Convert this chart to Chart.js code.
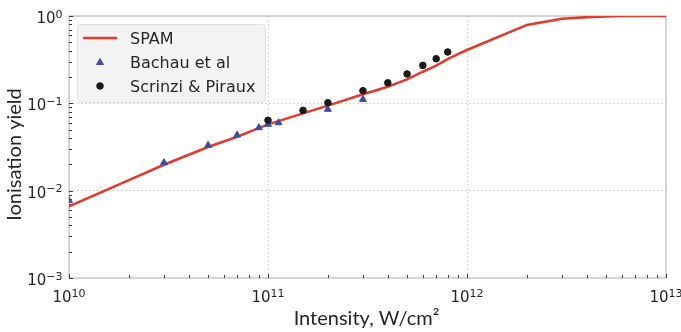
<!DOCTYPE html>
<html><head><meta charset="utf-8">
<script src="https://cdn.jsdelivr.net/npm/chart.js@4/dist/chart.umd.min.js"></script>
<style>html,body{margin:0;padding:0;background:#fff}#wrap{width:681px;height:332px;position:relative}</style>
</head><body><div id="wrap"><canvas id="c"></canvas></div>
<script>
// ---- data ----
const seriesNames = ['SPAM', 'Bachau et al', 'Scrinzi & Piraux'];
const spamX = [1e10, 2e10, 3e10, 5e10, 7e10, 1e11, 1.5e11, 2e11, 3e11, 4e11, 5e11, 6e11, 7e11, 8e11, 9e11, 1e12, 2e12, 3e12, 4e12, 5e12, 6e12, 7e12, 8e12, 9e12, 1e13];
const spamY = [0.0066, 0.0132, 0.0198, 0.0316, 0.0414, 0.0575, 0.0768, 0.094, 0.127, 0.155, 0.188, 0.23, 0.27, 0.32, 0.367, 0.408, 0.79, 0.93, 0.97, 0.99, 0.997, 1.0, 1.0, 1.0, 1.0];
const bachauX = [1e10, 3e10, 5e10, 7e10, 9e10, 1e11, 1.13e11, 2e11, 3e11];
const bachauY = [0.0077, 0.0209, 0.0331, 0.0433, 0.0526, 0.0575, 0.060, 0.0854, 0.111];
const scrinziX = [1e11, 1.5e11, 2e11, 3e11, 4e11, 5e11, 6e11, 7e11, 8e11];
const scrinziY = [0.064, 0.083, 0.1016, 0.1395, 0.172, 0.217, 0.272, 0.324, 0.387];
// tick labels: base "10" with these exponents
const tickBase = '10';
const xTickExponents = ['10', '11', '12', '13'];
const yTickExponents = ['\u22123', '\u22122', '\u22121', '0'];
const xTitle = 'Intensity, W/cm²';
const yTitle = 'Ionisation yield';

const toPts = (xs, ys) => xs.map((x, i) => ({x: x, y: ys[i]}));
const TXT = '#262626';

function logTicks(scale) {
  const ticks = [];
  const e0 = Math.round(Math.log10(scale.min));
  const e1 = Math.round(Math.log10(scale.max));
  for (let p = e0; p <= e1; p++) {
    for (let m = 1; m <= 9; m++) {
      const v = m * Math.pow(10, p);
      if (v > scale.max * 1.0001) break;
      ticks.push({value: v, major: m === 1});
    }
  }
  scale.ticks = ticks;
}
const gridColor = (ctx) => (ctx.tick && ctx.tick.major) ? '#d6d6d6' : 'rgba(0,0,0,0)';

const framePlugin = {
  id: 'frame',
  beforeDatasetsDraw(chart) {
    const {ctx, chartArea: a} = chart;
    ctx.save();
    ctx.strokeStyle = '#cccccc';
    ctx.lineWidth = 1.5;
    ctx.strokeRect(a.left, a.top, a.right - a.left, a.bottom - a.top);
    ctx.strokeStyle = '#3a3a3a';
    ctx.lineWidth = 1;
    const xs = chart.scales.x, ys = chart.scales.y;
    xs.ticks.forEach(t => {
      const px = Math.round(xs.getPixelForValue(t.value)) + 0.5;
      const L = t.major ? 4 : 3;
      ctx.beginPath(); ctx.moveTo(px, a.bottom); ctx.lineTo(px, a.bottom - L); ctx.stroke();
    });
    ys.ticks.forEach(t => {
      const py = Math.round(ys.getPixelForValue(t.value)) + 0.5;
      const L = t.major ? 4 : 3;
      ctx.beginPath(); ctx.moveTo(a.left, py); ctx.lineTo(a.left + L, py); ctx.stroke();
    });
    ctx.restore();
  }
};

const labelsPlugin = {
  id: 'powLabels',
  afterDraw(chart) {
    const {ctx, chartArea: a} = chart;
    const baseFont = '15px "DejaVu Sans"', expFont = '11px "DejaVu Sans"';
    ctx.save();
    ctx.fillStyle = TXT;
    ctx.textBaseline = 'alphabetic';
    ctx.textAlign = 'left';
    function drawPow(exp, x, baseline, align) {
      ctx.font = baseFont; const wb = ctx.measureText(tickBase).width;
      ctx.font = expFont; const we = ctx.measureText(exp).width;
      const x0 = align === 'center' ? x - (wb + we) / 2 : x - (wb + we);
      ctx.font = baseFont; ctx.fillText(tickBase, x0, baseline);
      ctx.font = expFont; ctx.fillText(exp, x0 + wb, baseline - 5.5);
    }
    const xs = chart.scales.x, ys = chart.scales.y;
    xs.ticks.filter(t => t.major).forEach((t, k) => {
      drawPow(xTickExponents[k], xs.getPixelForValue(t.value), a.bottom + 24, 'center');
    });
    ys.ticks.filter(t => t.major).forEach((t, k) => {
      drawPow(yTickExponents[k], a.left - 6.5, ys.getPixelForValue(t.value) + 7, 'right');
    });
    // axis titles
    ctx.font = '20px Lato';
    ctx.textAlign = 'center';
    ctx.fillText(xTitle, (a.left + a.right) / 2 - 1, a.bottom + 47);
    ctx.translate(21, (a.top + a.bottom) / 2 + 7.5);
    ctx.rotate(-Math.PI / 2);
    ctx.fillText(yTitle, 0, 0);
    ctx.restore();
  }
};

const legendPlugin = {
  id: 'boxLegend',
  afterDatasetsDraw(chart) {
    const {ctx, chartArea: a} = chart;
    const bx = a.left + 8, by = a.top + 8, bw = 188, bh = 78;
    ctx.save();
    ctx.beginPath();
    ctx.roundRect(bx + 0.5, by + 0.5, bw, bh, 3);
    ctx.fillStyle = 'rgba(242,242,242,0.95)';
    ctx.fill();
    ctx.strokeStyle = '#e2e2e2';
    ctx.lineWidth = 1;
    ctx.stroke();
    const rows = [14, 37.5, 62];
    ctx.font = '16px "DejaVu Sans"';
    ctx.textBaseline = 'alphabetic';
    chart.data.datasets.forEach((ds, i) => {
      const y = by + rows[i];
      const mx = bx + 23;
      if (i === 0) {
        ctx.strokeStyle = ds.borderColor;
        ctx.lineWidth = ds.borderWidth;
        ctx.beginPath(); ctx.moveTo(bx + 6, y); ctx.lineTo(bx + 40, y); ctx.stroke();
      } else {
        ctx.fillStyle = ds.pointBackgroundColor;
        ctx.strokeStyle = ds.pointBorderColor;
        ctx.lineWidth = ds.pointBorderWidth;
        Chart.helpers.drawPoint(ctx, {pointStyle: ds.pointStyle, radius: ds.pointRadius, borderWidth: ds.pointBorderWidth}, mx, y + (i === 1 ? 1 : 0));
      }
      ctx.fillStyle = TXT;
      ctx.fillText(ds.label, bx + 53, y + 6);
    });
    ctx.restore();
  }
};

new Chart(document.getElementById('c'), {
  type: 'line',
  data: {
    datasets: [
      {label: seriesNames[0], data: toPts(spamX, spamY), borderColor: '#e4392b', borderWidth: 2.5,
       pointRadius: 0, tension: 0, fill: false, order: 3},
      {label: seriesNames[1], data: toPts(bachauX, bachauY), showLine: false, pointStyle: 'triangle',
       pointRadius: 4, pointBackgroundColor: '#3a4ea6', pointBorderColor: '#3a4ea6', pointBorderWidth: 1, order: 2},
      {label: seriesNames[2], data: toPts(scrinziX, scrinziY), showLine: false, pointStyle: 'circle',
       pointRadius: 3.3, pointBackgroundColor: '#1a1a1a', pointBorderColor: '#1a1a1a', pointBorderWidth: 1, order: 1}
    ]
  },
  options: {
    responsive: true, maintainAspectRatio: false, animation: false, devicePixelRatio: 1,
    layout: {padding: {top: 16, right: 15, bottom: 0, left: 0}},
    plugins: {legend: {display: false}, tooltip: {enabled: false}},
    scales: {
      x: {
        type: 'logarithmic', min: 1e10, max: 1e13, position: 'bottom',
        afterBuildTicks: logTicks,
        afterFit: (s) => { s.height = 54; s.paddingLeft = 0; s.paddingRight = 0; },
        ticks: {display: false, autoSkip: false},
        grid: {color: gridColor, lineWidth: 1, drawTicks: false},
        border: {display: false, dash: [2, 2]},
        title: {display: false, text: xTitle}
      },
      y: {
        type: 'logarithmic', min: 1e-3, max: 1, position: 'left',
        afterBuildTicks: logTicks,
        afterFit: (s) => { s.width = 69; s.paddingTop = 0; s.paddingBottom = 0; },
        ticks: {display: false, autoSkip: false},
        grid: {color: gridColor, lineWidth: 1, drawTicks: false},
        border: {display: false, dash: [2, 2]},
        title: {display: false, text: yTitle}
      }
    }
  },
  plugins: [framePlugin, legendPlugin, labelsPlugin]
});
</script>
</body></html>
